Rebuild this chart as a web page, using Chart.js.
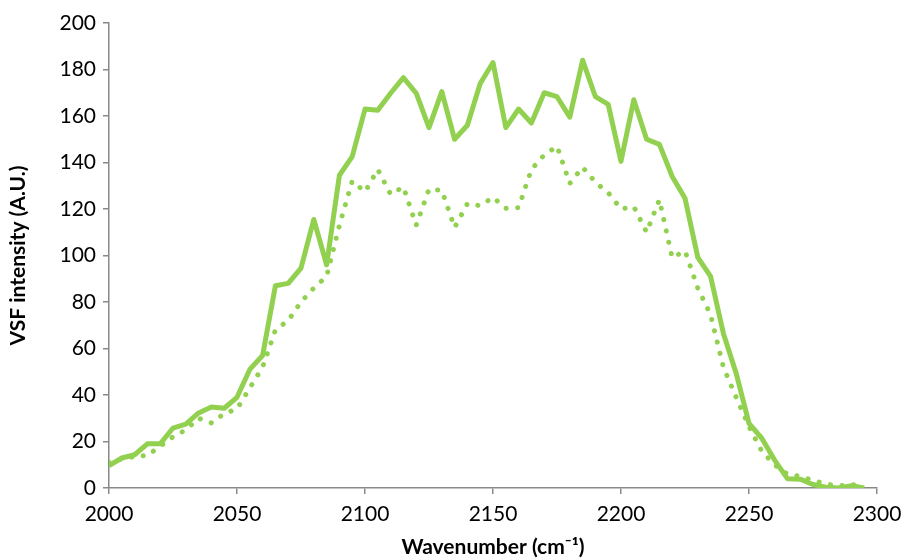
<!DOCTYPE html>
<html>
<head>
<meta charset="utf-8">
<script src="https://cdn.jsdelivr.net/npm/chart.js@4/dist/chart.umd.min.js"></script>
<style>
  html, body { margin: 0; padding: 0; background: #fff; }
  #wrap { width: 902px; height: 560px; }
</style>
</head>
<body>
<div id="wrap"><canvas id="vsfChart" width="902" height="560"></canvas></div>
<script>
// spectrum data
const wavenumbers = [
  2000, 2005, 2010, 2015, 2020, 2025, 2030, 2035, 2040, 2045,
  2050, 2055, 2060, 2065, 2070, 2075, 2080, 2085, 2090, 2095,
  2100, 2105, 2110, 2115, 2120, 2125, 2130, 2135, 2140, 2145,
  2150, 2155, 2160, 2165, 2170, 2175, 2180, 2185, 2190, 2195,
  2200, 2205, 2210, 2215, 2220, 2225, 2230, 2235, 2240, 2245,
  2250, 2255, 2260, 2265, 2270, 2275, 2280, 2285, 2290, 2295
];
const solidIntensity = [
  9.6, 12.9, 14.3, 19, 19, 25.8, 27.5, 32.3, 34.8, 34.3,
  39, 51, 57, 87, 88, 94.6, 115.5, 96, 134.5, 142.5,
  163, 162.5, 169.8, 176.5, 169.8, 155, 170.5, 150, 156, 174,
  183, 155, 163, 157, 170, 168.3, 159.5, 184, 168.3, 165,
  140.5, 167, 150, 147.8, 134, 124.6, 99.2, 91, 66.5, 49.3,
  27.8, 21.4, 12, 4, 3.8, 1.5, 0.3, 0, 1, 0
];
const dottedIntensity = [
  11, 12.5, 13.5, 14, 18, 22, 25, 30, 28, 32,
  34, 43, 52, 68, 72, 80, 86, 91, 113, 132,
  127.4, 137, 126.3, 129.5, 113, 128.5, 128, 112, 122.3, 121.4,
  125, 120.3, 120.6, 137, 143.2, 147, 131, 138, 131.5, 127,
  120, 121, 110, 124, 99, 102, 86, 74.5, 52, 39,
  26.4, 15.8, 10, 6, 5, 3.3, 1.7, 1, 1.4, 1.4
];
const xTicks = { min: 2000, max: 2300, step: 50 };
const yTicks = { min: 0, max: 200, step: 20 };

const green = '#92D050';
const axisGray = '#898989';
const fontFamily = 'Lato, "Open Sans", sans-serif';

function toPoints(ys) {
  return wavenumbers.map((w, i) => ({ x: w, y: ys[i] }));
}

new Chart(document.getElementById('vsfChart'), {
  type: 'line',
  data: {
    datasets: [
      {
        label: 'solid',
        data: toPoints(solidIntensity),
        borderColor: green,
        borderWidth: 5,
        borderJoinStyle: 'round',
        pointRadius: 0,
        tension: 0,
        fill: false
      },
      {
        label: 'dotted',
        data: toPoints(dottedIntensity),
        borderColor: green,
        borderWidth: 5,
        borderCapStyle: 'round',
        borderDash: [0.1, 11.5],
        pointRadius: 0,
        tension: 0,
        fill: false
      }
    ]
  },
  options: {
    responsive: false,
    animation: false,
    layout: { padding: { top: 23, right: 25, left: 0, bottom: 0 } },
    plugins: { legend: { display: false }, tooltip: { enabled: false } },
    scales: {
      x: {
        type: 'linear',
        min: xTicks.min,
        max: xTicks.max,
        ticks: {
          stepSize: xTicks.step,
          color: '#000',
          padding: 8,
          font: { family: fontFamily, size: 21 },
          callback: v => String(v)
        },
        grid: { drawOnChartArea: false, drawTicks: true, tickLength: 6, color: axisGray, lineWidth: 1.5 },
        border: { color: axisGray, width: 1.5 },
        title: {
          display: true,
          text: 'Wavenumber (cm⁻¹)',
          color: '#000',
          font: { family: fontFamily, size: 21, weight: 'bold' },
          padding: { top: 0, bottom: 0 }
        },
        afterFit: s => { s.height = 72; s.paddingLeft = 0; s.paddingRight = 0; }
      },
      y: {
        min: yTicks.min,
        max: yTicks.max,
        ticks: { stepSize: yTicks.step, color: '#000', padding: 7, font: { family: fontFamily, size: 21 } },
        grid: { drawOnChartArea: false, drawTicks: true, tickLength: 6, color: axisGray, lineWidth: 1.5 },
        border: { color: axisGray, width: 1.5 },
        title: {
          display: true,
          text: 'VSF intensity (A.U.)',
          color: '#000',
          font: { family: fontFamily, size: 21, weight: 'bold' },
          padding: { top: 6, bottom: 4 }
        },
        afterFit: s => { s.width = 109; s.paddingTop = 0; s.paddingBottom = 0; }
      }
    }
  }
});
</script>
</body>
</html>
